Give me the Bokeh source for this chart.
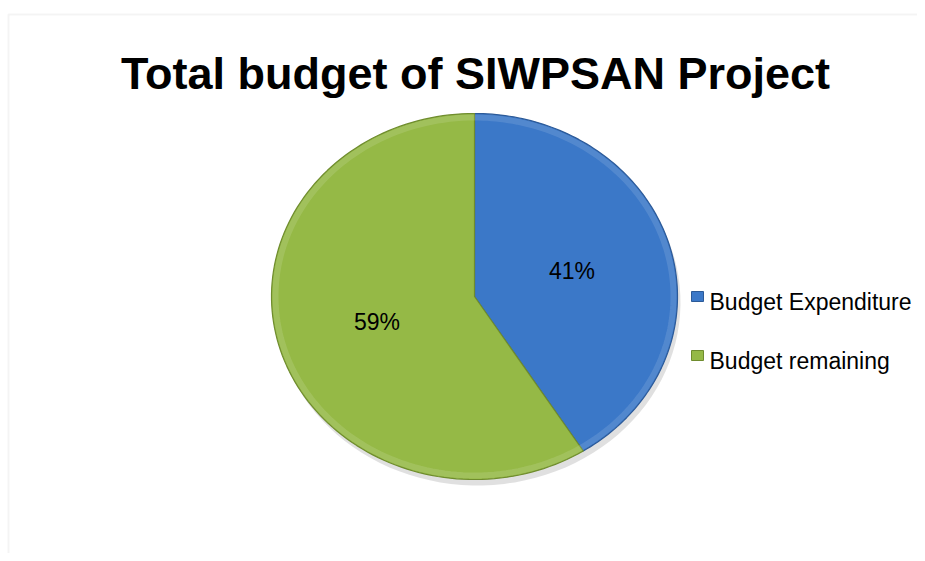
import numpy as np
from bokeh.plotting import figure
from bokeh.models import Range1d, ColumnDataSource, BoxAnnotation
from bokeh.core.properties import value
from bokeh.embed import file_html
from bokeh.resources import INLINE

# ---- data ----
title = "Total budget of SIWPSAN Project"
categories = ["Budget Expenditure", "Budget remaining"]
values = [41, 59]
labels = ["41%", "59%"]
colors = ["#3b78c8", "#95b946"]
edge_colors = ["#2c5a98", "#6f8c2e"]

# ---- layout (screenshot pixel coordinates) ----
W, H = 917, 553
p = figure(width=W, height=H, output_backend="svg", toolbar_location=None,
           x_range=Range1d(0, W), y_range=Range1d(H, 0),
           min_border=0, outline_line_color=None)
p.axis.visible = False
p.grid.visible = False
p.background_fill_color = "white"
p.border_fill_color = "white"

# chart-area frame
p.add_layout(BoxAnnotation(left=8, right=960, top=14, bottom=600,
                           fill_alpha=0, line_color="#dcdcdc", line_width=2))

cx, cy, rx, ry = 474, 296, 203, 183

def wedge(f0, f1, dx=0.0, dy=0.0):
    t = np.linspace(2 * np.pi * f0, 2 * np.pi * f1, 120)
    xs = np.concatenate([[cx + dx], cx + dx + rx * np.sin(t), [cx + dx]])
    ys = np.concatenate([[cy + dy], cy + dy - ry * np.cos(t), [cy + dy]])
    return list(xs), list(ys)

total = float(sum(values))
fr = np.array(values) / total
starts = np.concatenate([[0], np.cumsum(fr)[:-1]])
ends = np.cumsum(fr)

# soft shadow
sx_, sy_ = wedge(0, 1, dx=3, dy=6)
p.patch(sx_, sy_, fill_color="#000000", fill_alpha=0.12, line_color=None)

xs_all, ys_all = [], []
for s, e in zip(starts, ends):
    xx, yy = wedge(s, e)
    xs_all.append(xx)
    ys_all.append(yy)
src = ColumnDataSource(dict(xs=xs_all, ys=ys_all, color=colors, edge=edge_colors))
p.patches("xs", "ys", source=src, fill_color="color", line_color="edge", line_width=1.2)

# subtle bevel highlight ring
for s, e in zip(starts, ends):
    t = np.linspace(2 * np.pi * s, 2 * np.pi * e, 120)
    hx = cx + (rx - 4) * np.sin(t)
    hy = cy - (ry - 4) * np.cos(t)
    p.line(list(hx), list(hy), line_color="white", line_alpha=0.12, line_width=6)

# percentage labels
mids = (starts + ends) / 2
lx = [cx + 0.5 * rx * np.sin(2 * np.pi * m) for m in mids]
ly = [cy - 0.5 * ry * np.cos(2 * np.pi * m) for m in mids]
lsrc = ColumnDataSource(dict(x=lx, y=ly, t=labels))
p.text("x", "y", text="t", source=lsrc, text_align="center", text_baseline="middle",
       text_font=value("Liberation Sans"), text_font_size="23px", text_color="black")

# title
p.text([475], [73], text=[title], text_align="center", text_baseline="alphabetic",
       text_font=value("Liberation Sans"), text_font_size="45px",
       text_font_style="bold", text_color="black")

# legend
leg_y = [296 + 59 * i for i in range(len(categories))]
p.rect([697] * len(categories), leg_y, width=12, height=10, fill_color=colors,
       line_color=edge_colors, line_width=1)
p.text([709] * len(categories), [y + 5 for y in leg_y], text=categories,
       text_align="left", text_baseline="alphabetic",
       text_font=value("Liberation Sans"), text_font_size="23px", text_color="black")

open("out.html", "w").write(file_html(p, INLINE))
